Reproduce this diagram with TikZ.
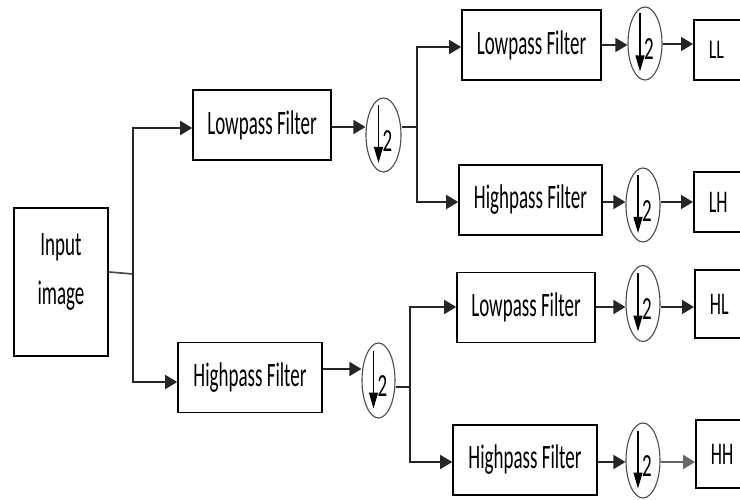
\documentclass[tikz,border=0pt]{standalone}
\usepackage{fontspec}
\setmainfont{Carlito}
\usepackage{graphicx}
\usetikzlibrary{arrows.meta,shapes.geometric}
\newcommand\vstretch[2][1.8]{\scalebox{1}[#1]{#2}}
\begin{document}
\begin{tikzpicture}[x=1pt,y=-1pt,
  box/.style={draw=black,line width=1.6pt,minimum width=#1,minimum height=70pt,inner sep=0pt,
    font=\fontsize{19}{22}\selectfont},
  obox/.style={draw=black,line width=1.6pt,minimum height=#1,anchor=west,inner xsep=15pt,inner ysep=0pt,
    text width=45pt,align=left,font=\fontsize{18}{21}\selectfont},
  dn/.style={ellipse,draw=black!70,line width=1.1pt,inner sep=0pt},
  two/.style={inner sep=0pt,font=\fontsize{19}{22}\selectfont},
  conn/.style={draw=black!85,line width=1.7pt},
  arr/.style={conn,-{Triangle[length=12pt,width=14pt]}},
  darr/.style={draw=black,line width=1.1pt,-{Triangle[length=16pt,width=9pt]}}
]
\fill[white] (0,0) rectangle (740,500);
\useasboundingbox (0,0) rectangle (740,500);

% filter boxes
\node[box=94,minimum height=148pt] (in) at (61,282) {};
\node[inner sep=0pt,font=\fontsize{19}{22}\selectfont] (intext) at (61,272)
  {\vstretch{\begin{tabular}{@{}c@{}}Input\\[5pt]image\end{tabular}}};
\node[box=138] (lp1) at (262,125) {\vstretch{Lowpass Filter}};
\node[box=144] (hp1) at (250,377.5) {\vstretch{Highpass Filter}};
\node[box=139] (lp2) at (531.5,45) {\vstretch{Lowpass Filter}};
\node[box=143] (hp2) at (530.5,200) {\vstretch{Highpass Filter}};
\node[box=138] (lp3) at (526,307.5) {\vstretch{Lowpass Filter}};
\node[box=144] (hp3) at (525,460) {\vstretch{Highpass Filter}};

% downsamplers
\node[dn,minimum width=35pt,minimum height=74pt] (d1) at (383.5,135) {};
\node[dn,minimum width=33pt,minimum height=75pt] (d2) at (378.5,380.5) {};
\node[dn,minimum width=34pt,minimum height=73pt] (d3) at (645,43.5) {};
\node[dn,minimum width=34pt,minimum height=74pt] (d4) at (643,205) {};
\node[dn,minimum width=34pt,minimum height=76pt] (d5) at (643,303.5) {};
\node[dn,minimum width=34pt,minimum height=75pt] (d6) at (643,460.5) {};
\foreach \d in {d1,d2,d3,d4,d5,d6}{
  \draw[darr] ([shift={(-5,-30)}]\d.center) -- ([shift={(-5,28)}]\d.center);
  \node[two] (\d n) at ([shift={(4,6)}]\d.center) {\vstretch[1.7]{2}};
}

% outputs
\node[obox=60pt] (ll) at (693,50) {\raisebox{-4pt}{\vstretch[1.5]{LL}}};
\node[obox=60pt] (lh) at (693,202) {\vstretch[1.75]{LH}};
\node[obox=68pt] (hl) at (694,304) {\vstretch[1.75]{HL}};
\node[obox=68pt] (hh) at (695,454) {\vstretch[1.75]{HH}};

% first stage
\coordinate (t1) at (133,274);
\draw[conn,draw=black!70] (in.east |- 0,272) -- (t1);
\draw[arr] (t1) |- (lp1.west |- 0,128);
\draw[arr] (t1) |- (hp1.west |- 0,382);
\draw[arr] (lp1.east |- 0,127) -- (d1.west |- 0,127);
\draw[arr] (hp1.east |- 0,369) -- (d2.west |- 0,369);

% second stage, low branch
\coordinate (t2) at (417,127);
\draw[conn] (d1.east |- t2) -- (t2);
\draw[arr] (t2) |- (lp2.west |- 0,47);
\draw[arr] (t2) |- (hp2.west |- 0,202);

% second stage, high branch
\coordinate (t3) at (410,387);
\draw[conn] (d2.east |- t3) -- (t3);
\draw[arr] (t3) |- (lp3.west |- 0,307);
\draw[arr] (t3) |- (hp3.west |- 0,462);

% to downsamplers and outputs
\draw[arr] (lp2.east |- 0,45) -- (d3.west |- 0,45);
\draw[arr] (d3.east |- 0,44) -- (ll.west |- 0,44);
\draw[arr] (hp2.east |- 0,202) -- (d4.west |- 0,202);
\draw[arr] (d4.east |- 0,202) -- (lh.west |- 0,202);
\draw[arr] (lp3.east |- 0,307) -- (d5.west |- 0,307);
\draw[arr] (d5.east |- 0,307) -- (hl.west |- 0,307);
\draw[arr] (hp3.east |- 0,462) -- (d6.west |- 0,462);
\draw[arr,draw=black!60,line width=2.4pt] (d6.east |- 0,462) -- (hh.west |- 0,462);
\end{tikzpicture}
\end{document}
